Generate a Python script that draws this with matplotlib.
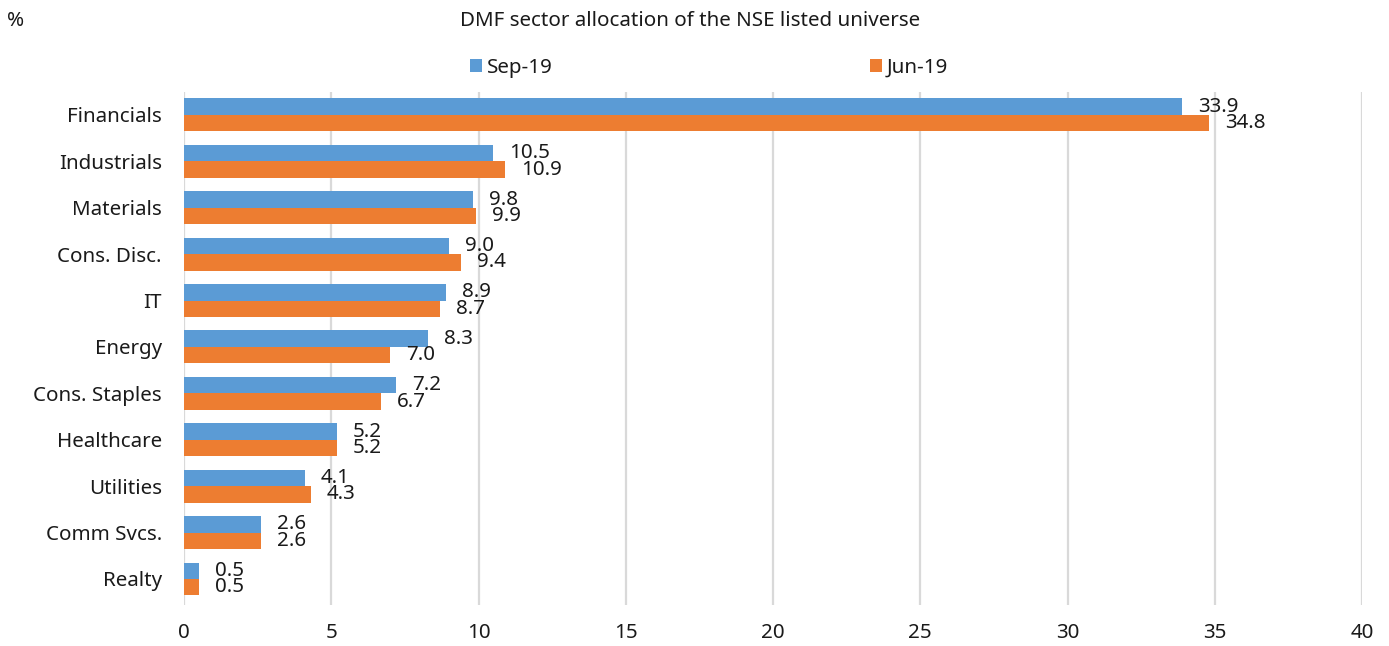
import matplotlib
matplotlib.use("Agg")
import matplotlib.pyplot as plt
import numpy as np
from matplotlib.patches import Patch

sectors = ["Financials", "Industrials", "Materials", "Cons. Disc.", "IT", "Energy",
           "Cons. Staples", "Healthcare", "Utilities", "Comm Svcs.", "Realty"]
sep19 = [33.9, 10.5, 9.8, 9.0, 8.9, 8.3, 7.2, 5.2, 4.1, 2.6, 0.5]
jun19 = [34.8, 10.9, 9.9, 9.4, 8.7, 7.0, 6.7, 5.2, 4.3, 2.6, 0.5]
x_ticks = [0, 5, 10, 15, 20, 25, 30, 35, 40]

BLUE = "#5B9BD5"
ORANGE = "#ED7D31"
GRID = "#D9D9D9"
TXT = "#1a1a1a"
FS = 14.8

plt.rcParams["font.family"] = ["Noto Sans", "DejaVu Sans"]

fig = plt.figure(figsize=(13.89, 6.46), dpi=100)
ax = fig.add_axes([0.1325, 0.0635, 0.9806 - 0.1325, 0.858 - 0.0635])

y = np.arange(len(sectors))
h = 0.355
ax.barh(y - h / 2, sep19, height=h, color=BLUE, zorder=3)
ax.barh(y + h / 2, jun19, height=h, color=ORANGE, zorder=3)

# value labels just past the end of each bar
for yi, v in zip(y - h / 2, sep19):
    ax.annotate(f"{v:.1f}", (v, yi), xytext=(11.5, 0), textcoords="offset points",
                ha="left", va="center", fontsize=FS, color=TXT, zorder=4)
for yi, v in zip(y + h / 2, jun19):
    ax.annotate(f"{v:.1f}", (v, yi), xytext=(11.5, 0), textcoords="offset points",
                ha="left", va="center", fontsize=FS, color=TXT, zorder=4)

ax.set_xlim(0, 40)
ax.set_ylim(len(sectors) - 0.44, -0.5)
ax.set_xticks(x_ticks)
ax.set_xticklabels([str(t) for t in x_ticks])
ax.set_yticks(y)
ax.set_yticklabels(sectors)
ax.tick_params(axis="both", length=0, labelsize=FS, colors=TXT)
ax.tick_params(axis="y", pad=16)
ax.tick_params(axis="x", pad=13)
ax.xaxis.grid(True, color=GRID, linewidth=1.6, zorder=0)
for s in ax.spines.values():
    s.set_visible(False)

fig.text(0.4965, 0.968, "DMF sector allocation of the NSE listed universe",
         ha="center", va="center", fontsize=FS, color=TXT)
fig.text(0.005, 0.968, "%", ha="left", va="center", fontsize=FS, color=TXT)

handles = [Patch(facecolor=BLUE, label="Sep-19"), Patch(facecolor=ORANGE, label="Jun-19")]
fig.legend(handles=handles, loc="center", bbox_to_anchor=(0.5105, 0.895), ncol=2,
           frameon=False, fontsize=FS, handlelength=0.6, handleheight=0.6,
           handletextpad=0.25, columnspacing=15.4, labelcolor=TXT)

fig.savefig("out.png", dpi=100)
